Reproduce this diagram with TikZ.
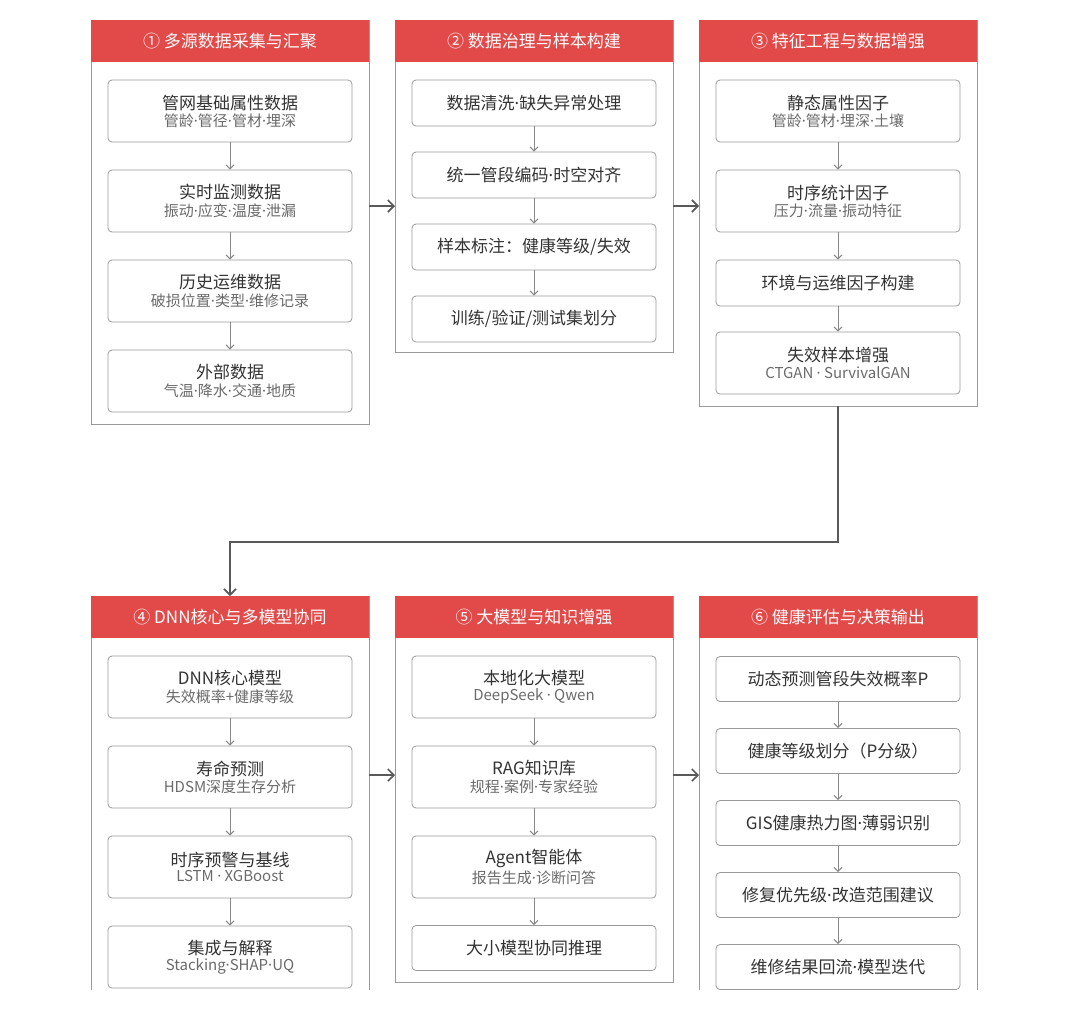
\documentclass[tikz,border=0pt]{standalone}
\usepackage{fontspec}
\setmainfont{Noto Sans CJK SC}
\newfontfamily\latf{Noto Sans}
\usetikzlibrary{arrows.meta}
\definecolor{hred}{HTML}{E24A4A}
\definecolor{bord}{HTML}{9A9A9A}
\definecolor{txt}{HTML}{333333}
\definecolor{subc}{HTML}{6A6A6A}
\newcommand\mdt{{\latf ·}}
\newcommand\two[2]{{\fontsize{17}{20}\selectfont #1}\\[2pt]{\color{subc}\fontsize{15}{17}\selectfont #2}}
\newcommand\one[1]{{\fontsize{17}{20}\selectfont #1}}
\begin{document}
\begin{tikzpicture}[x=1pt,y=-1pt,
 box/.style={draw=bord,line width=0.8pt,rounded corners=4pt,minimum width=244pt,align=center,text=txt,inner sep=0pt},
 b2/.style={box,minimum height=62pt},
 b1/.style={box,minimum height=46pt},
 head/.style={fill=hred,text=white,minimum width=278pt,minimum height=42pt,inner sep=0pt,font=\fontsize{17}{20}\selectfont},
 panel/.style={draw=bord,line width=0.9pt},
 ar/.style={draw=subc!80,line width=1pt,-{Straight Barb[length=4pt,width=8pt]}},
 big/.style={draw=black!65,line width=1.6pt,-{Straight Barb[length=6pt,width=12pt]}}]
\useasboundingbox (0,0) rectangle (1080,1021);
% panels
\draw[panel,fill=white] (91,20) rectangle (369,424);
\draw[panel] (395,20) rectangle (673,352);
\draw[panel] (699,20) rectangle (977,406);
\draw[panel] (91,990) -- (91,596) -- (369,596) -- (369,990);
\draw[panel] (395,596) rectangle (673,982);
\draw[panel] (699,990) -- (699,596) -- (977,596) -- (977,990);
\node[head] (h1) at (230,41) {① 多源数据采集与汇聚};
\node[head] (h2) at (534,41) {② 数据治理与样本构建};
\node[head] (h3) at (838,41) {③ 特征工程与数据增强};
\node[head] (h4) at (230,617) {④ DNN核心与多模型协同};
\node[head] (h5) at (534,617) {⑤ 大模型与知识增强};
\node[head] (h6) at (838,617) {⑥ 健康评估与决策输出};
% panel 1
\node[b2] (a1) at (230,111) {\two{管网基础属性数据}{管龄\mdt 管径\mdt 管材\mdt 埋深}};
\node[b2] (a2) at (230,201) {\two{实时监测数据}{振动\mdt 应变\mdt 温度\mdt 泄漏}};
\node[b2] (a3) at (230,291) {\two{历史运维数据}{破损位置\mdt 类型\mdt 维修记录}};
\node[b2] (a4) at (230,381) {\two{外部数据}{气温\mdt 降水\mdt 交通\mdt 地质}};
% panel 2
\node[b1] (b1) at (534,103) {\one{数据清洗\mdt 缺失异常处理}};
\node[b1] (b2) at (534,175) {\one{统一管段编码\mdt 时空对齐}};
\node[b1] (b3) at (534,247) {\one{样本标注：健康等级/失效}};
\node[b1] (b4) at (534,319) {\one{训练/验证/测试集划分}};
% panel 3
\node[b2] (c1) at (838,111) {\two{静态属性因子}{管龄\mdt 管材\mdt 埋深\mdt 土壤}};
\node[b2] (c2) at (838,201) {\two{时序统计因子}{压力\mdt 流量\mdt 振动特征}};
\node[b1] (c3) at (838,283) {\one{环境与运维因子构建}};
\node[b2] (c4) at (838,363) {\two{失效样本增强}{CTGAN \mdt{} SurvivalGAN}};
% panel 4
\node[b2] (d1) at (230,687) {\two{DNN核心模型}{失效概率+健康等级}};
\node[b2] (d2) at (230,777) {\two{寿命预测}{HDSM深度生存分析}};
\node[b2] (d3) at (230,867) {\two{时序预警与基线}{LSTM \mdt{} XGBoost}};
\node[b2] (d4) at (230,957) {\two{集成与解释}{Stacking\mdt SHAP\mdt UQ}};
% panel 5
\node[b2] (e1) at (534,687) {\two{本地化大模型}{DeepSeek \mdt{} Qwen}};
\node[b2] (e2) at (534,777) {\two{RAG知识库}{规程\mdt 案例\mdt 专家经验}};
\node[b2] (e3) at (534,867) {\two{Agent智能体}{报告生成\mdt 诊断问答}};
\node[b1,minimum height=45pt] (e4) at (534,948) {\one{大小模型协同推理}};
% panel 6
\node[b1,minimum height=45pt] (f1) at (838,679) {\one{动态预测管段失效概率P}};
\node[b1,minimum height=45pt] (f2) at (838,751) {\one{健康等级划分（P分级）}};
\node[b1,minimum height=45pt] (f3) at (838,823) {\one{GIS健康热力图\mdt 薄弱识别}};
\node[b1,minimum height=45pt] (f4) at (838,895) {\one{修复优先级\mdt 改造范围建议}};
\node[b1,minimum height=45pt] (f5) at (838,967) {\one{维修结果回流\mdt 模型迭代}};
% inner arrows
\foreach \p/\q in {a1/a2,a2/a3,a3/a4,b1/b2,b2/b3,b3/b4,c1/c2,c2/c3,c3/c4,d1/d2,d2/d3,d3/d4,e1/e2,e2/e3,e3/e4,f1/f2,f2/f3,f3/f4,f4/f5}
  \draw[ar] (\p.south) -- (\q.north);
% panel arrows
\coordinate (p1r) at (369,206); \coordinate (p2l) at (395,206);
\coordinate (p2r) at (673,206); \coordinate (p3l) at (699,206);
\coordinate (p4r) at (369,775); \coordinate (p5l) at (395,775);
\coordinate (p5r) at (673,775); \coordinate (p6l) at (699,775);
\coordinate (p3b) at (838,406); \coordinate (p4t) at (230,596);
\draw[big] (p1r) -- (p2l);
\draw[big] (p2r) -- (p3l);
\draw[big] (p4r) -- (p5l);
\draw[big] (p5r) -- (p6l);
\draw[big] (p3b) -- (838,542) -- (230,542) -- (p4t);
\end{tikzpicture}
\end{document}
